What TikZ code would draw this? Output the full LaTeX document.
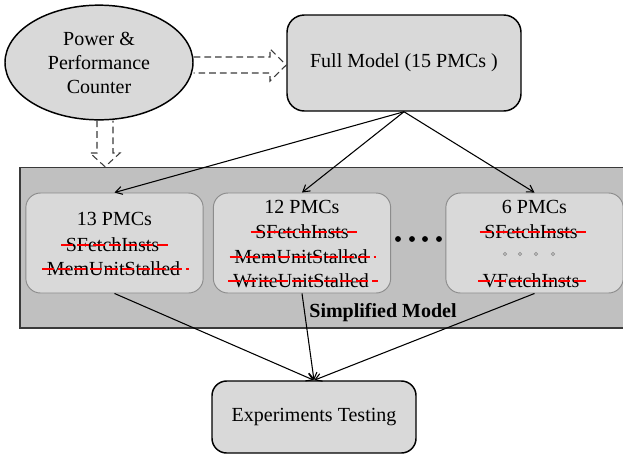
\documentclass[tikz,border=0pt]{standalone}
\usepackage{fontspec}
\setmainfont{Liberation Serif}
\usetikzlibrary{arrows.meta, positioning, shapes.geometric, calc}
\definecolor{cfill}{HTML}{D9D9D9}
\definecolor{cpanel}{HTML}{C0C0C0}
\definecolor{cedge}{HTML}{8C8C8C}
\definecolor{cdark}{HTML}{3A3A3A}
\definecolor{cred}{HTML}{FF0000}
\tikzset{
  every picture/.style={line width=0.9pt},
  box/.style={draw=black, fill=cfill, rounded corners=13pt, line width=1.1pt, align=center, inner sep=0pt},
  sub/.style={draw=cedge, fill=cfill, rounded corners=11pt, line width=0.7pt, inner sep=0pt, minimum width=133pt, minimum height=75pt},
  arrow/.style={-{Straight Barb[length=5pt,width=6pt]}, draw=black, line width=0.8pt},
  hollow/.style={draw=cdark, dash pattern=on 5pt off 3pt, line width=0.8pt},
  strike/.style={draw=cred, line width=1.5pt, dash pattern=on 9pt off 3pt},
  txt/.style={inner sep=0pt, anchor=base},
}

\begin{document}
\begin{tikzpicture}[
    x=0.75pt, y=-0.75pt,
    every node/.append style={font=\fontsize{15}{18}\selectfont},
    source/.style={ellipse, draw=black, fill=cfill, line width=1.1pt, align=center, inner sep=0pt, minimum width=141pt, minimum height=86pt},
    panel/.style={draw=cdark, fill=cpanel, line width=1.1pt, inner sep=0pt},
  ]
  \useasboundingbox (0,0) rectangle (623,454);
  \clip (0,0) rectangle (623,454);

  % ---- top row
  \node[source] (pc) at (99,62.5) {Power \&\\Performance\\Counter};
  \node[box, minimum width=175.5pt, minimum height=72pt] (fm) at (404,63) {Full Model (15 PMCs )};

  % ---- simplified models
  \node[panel, minimum width=465pt, minimum height=120.5pt] (sm) at (330,247.75) {};
  \node[sub] (b13) at (114.5,243) {};
  \node[sub] (b12) at (302,243) {};
  \node[sub] (b6)  at (534.5,243) {};

  \node[txt] (t13) at (114.5,225) {13 PMCs};
  \node[txt] (s13) at (112.5,251) {SFetchInsts};
  \node[txt] (m13) at (113.5,275) {MemUnitStalled};

  \node[txt] (t12) at (302,213) {12 PMCs};
  \node[txt] (s12) at (302,238) {SFetchInsts};
  \node[txt] (m12) at (301,263) {MemUnitStalled};
  \node[txt] (w12) at (301,287) {WriteUnitStalled};

  \node[txt] (t6) at (534.5,213) {6 PMCs};
  \node[txt] (s6) at (531,238) {SFetchInsts};
  \node[txt] (v6) at (531,287) {VFetchInsts};

  \foreach \n in {s13, m13, s12, m12, w12, s6, v6}
    \draw[strike] ([xshift=-3pt, yshift=4.5pt]\n.base west) -- ([xshift=6pt, yshift=4.5pt]\n.base east);

  \foreach \x in {398, 412, 425, 439} \fill (\x,239) circle (2.2pt);
  \foreach \x in {505, 520, 536, 553} \draw[cedge, line width=0.5pt] (\x,254) circle (1.2pt);

  \node[txt, font=\fontsize{15}{18}\selectfont\bfseries] (smlabel) at (383,317) {Simplified Model};

  % ---- test
  \node[box, rounded corners=11pt, minimum width=153pt, minimum height=54pt] (ex) at (314,417) {Experiments Testing};

  % counters feed the models
  \coordinate (tipR) at (fm.west |- 0,65);
  \draw[hollow] (pc.east |- 0,57) -- (270,57) -- (270,49) -- (tipR) -- (270,81) -- (270,73) -- (pc.east |- 0,73);
  \coordinate (tipD) at (105,0 |- sm.north);
  \draw[hollow] (97,0 |- pc.south) -- (97,153) -- (90,153) -- (tipD) -- (120,153) -- (113,153) -- (113,0 |- pc.south);

  % full model to reduced ones, reduced ones to testing
  \foreach \b in {b13, b12, b6} \draw[arrow] (fm.south) -- (\b.north);
  \foreach \b in {b13, b12, b6} \draw[arrow] (\b.south) -- (ex.north);
\end{tikzpicture}
\end{document}
